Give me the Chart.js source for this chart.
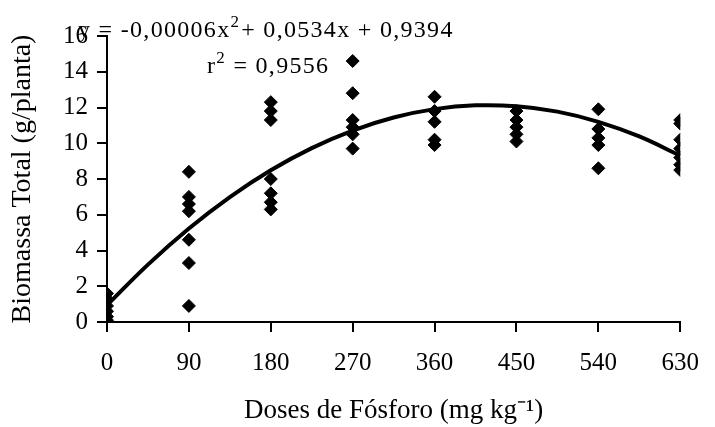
<!DOCTYPE html>
<html>
<head>
<meta charset="utf-8">
<script src="https://cdn.jsdelivr.net/npm/chart.js@4"></script>
<style>
  html, body { margin: 0; padding: 0; background: #fff; }
  #wrap { width: 715px; height: 427px; }
</style>
</head>
<body>
<div id="wrap"><canvas id="biomassaChart"></canvas></div>
<script>
// doses de fósforo (mg kg-1)
const doses = [0, 90, 180, 270, 360, 450, 540, 630];
// biomassa total (g/planta) observada em cada dose
const biomassa = [
    [1.6, 1.3, 0.9, 0.6, 0.3, 0.1],
    [8.4, 7.0, 6.6, 6.2, 4.6, 3.3, 0.9],
    [12.3, 11.8, 11.3, 8.0, 7.2, 6.7, 6.3],
    [14.6, 12.8, 11.3, 10.9, 10.5, 9.7],
    [12.6, 11.8, 11.2, 10.2, 9.9],
    [11.8, 11.3, 10.9, 10.5, 10.1],
    [11.9, 10.8, 10.3, 9.9, 8.6],
    [11.3, 11.1, 10.2, 9.7, 9.2, 8.8, 8.5]
];
// curva ajustada
const curvaX = [0, 45, 90, 135, 180, 225, 270, 315, 360, 405, 450, 495, 540, 585, 630];
const curvaY = [0.94, 3.21, 5.23, 6.99, 8.49, 9.73, 10.71, 11.44, 11.91, 12.12, 12.07, 11.77, 11.20, 10.38, 9.30];
const yTicks = [0, 2, 4, 6, 8, 10, 12, 14, 16];

const FONT = "'Liberation Serif', 'Times New Roman', serif";

const pontos = [];
doses.forEach((d, i) => biomassa[i].forEach(v => pontos.push({ x: d, y: v })));
const curva = curvaX.map((x, i) => ({ x: x, y: curvaY[i] }));

const equacao = {
    id: "equacao",
    afterDraw(chart) {
        const ctx = chart.ctx;
        const a = chart.chartArea;
        ctx.save();
        ctx.fillStyle = "#000";
        ctx.textBaseline = "alphabetic";
        ctx.letterSpacing = "1.3px";
        let x = a.left - 29, y = a.top + 1;
        const parts = [["y = -0,00006x", 0], ["2", 1], ["+ 0,0534x + 0,9394", 0]];
        parts.forEach(([t, sup]) => {
            ctx.font = (sup ? "17px " : "24px ") + FONT;
            ctx.fillText(t, x, sup ? y - 10 : y);
            x += ctx.measureText(t).width + (sup ? 1 : 0);
        });
        x = a.left + 100; y = a.top + 37;
        ctx.font = "24px " + FONT;
        ctx.fillText("r", x, y);
        x += ctx.measureText("r").width;
        ctx.font = "17px " + FONT;
        ctx.fillText("2", x, y - 10);
        x += ctx.measureText("2").width;
        ctx.font = "24px " + FONT;
        ctx.fillText(" = 0,9556", x, y);
        ctx.restore();
    }
};

new Chart(document.getElementById("biomassaChart"), {
    type: "scatter",
    data: {
        datasets: [{
            type: "line",
            data: curva,
            borderColor: "#000",
            borderWidth: 4,
            pointRadius: 0,
            tension: 0.4,
            fill: false
        }, {
            data: pontos,
            pointStyle: "rectRot",
            pointRadius: 6.5,
            backgroundColor: "#000",
            borderColor: "#000",
            borderWidth: 1
        }]
    },
    options: {
        responsive: true,
        maintainAspectRatio: false,
        animation: false,
        layout: { padding: { left: 0, top: 36, right: 23, bottom: 0 } },
        plugins: {
            legend: { display: false },
            tooltip: { enabled: false }
        },
        scales: {
            x: {
                type: "linear",
                min: 0,
                max: 630,
                afterFit(s) { s.height = 105; },
                afterBuildTicks(s) { s.ticks = doses.map(v => ({ value: v })); },
                grid: { display: true, drawOnChartArea: false, drawTicks: true, tickLength: 10, color: "#000", lineWidth: 2 },
                border: { display: true, color: "#000", width: 2 },
                ticks: { color: "#000", padding: 16, maxRotation: 0, font: { family: FONT, size: 25 } },
                title: {
                    display: true,
                    text: "Doses de Fósforo (mg kg⁻¹)",
                    color: "#000",
                    padding: { top: 0, bottom: 0 },
                    font: { family: FONT, size: 27 }
                }
            },
            y: {
                min: 0,
                max: 16,
                afterFit(s) { s.width = 107; },
                afterBuildTicks(s) { s.ticks = yTicks.map(v => ({ value: v })); },
                grid: { display: true, drawOnChartArea: false, drawTicks: true, tickLength: 10, color: "#000", lineWidth: 2 },
                border: { display: true, color: "#000", width: 2 },
                ticks: { color: "#000", padding: 9, font: { family: FONT, size: 25 } },
                title: {
                    display: true,
                    text: "Biomassa Total (g/planta)",
                    color: "#000",
                    padding: { top: 6, bottom: 0 },
                    font: { family: FONT, size: 28 }
                }
            }
        }
    },
    plugins: [equacao]
});
</script>
</body>
</html>
